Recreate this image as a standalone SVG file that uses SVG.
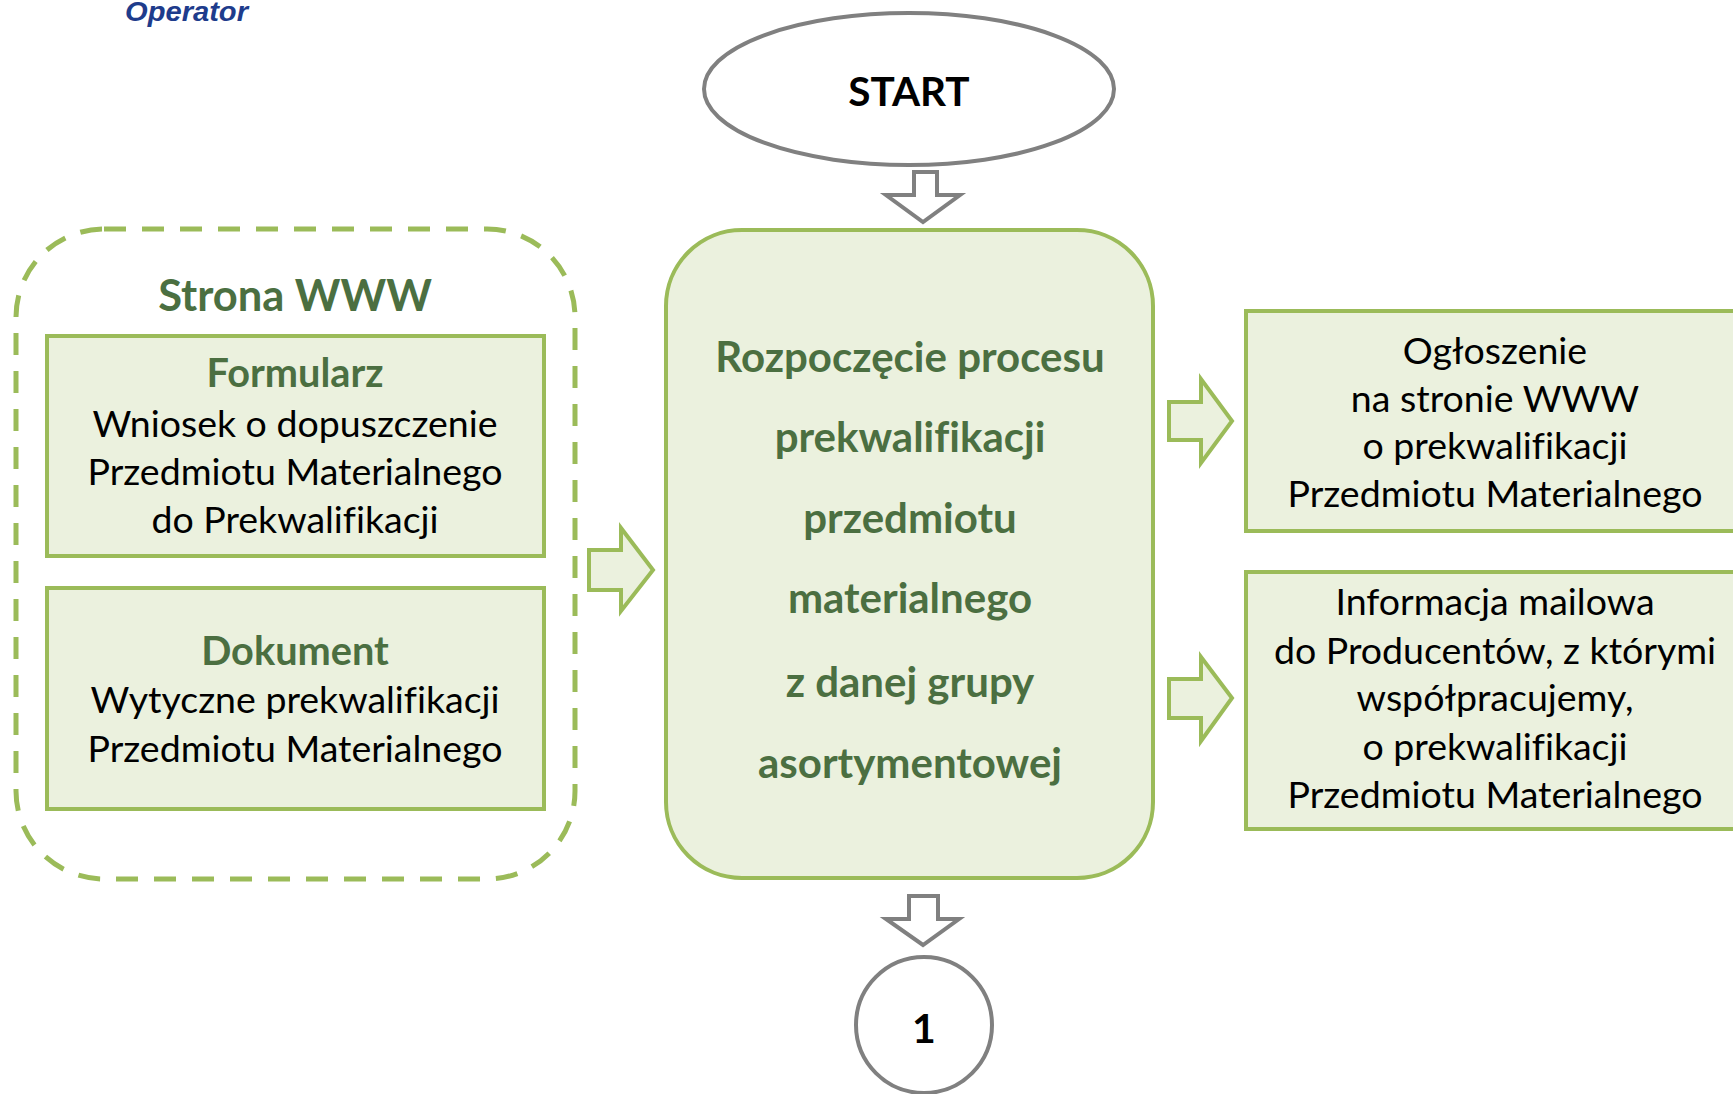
<svg xmlns="http://www.w3.org/2000/svg" width="1733" height="1094" viewBox="0 0 1733 1094">
<style>
text{font-variant-ligatures:none;font-feature-settings:"liga" 0,"clig" 0}
.box{fill:#EBF1DE;stroke:#9BBB59;stroke-width:4}
.garrow{fill:#EBF1DE;stroke:#9BBB59;stroke-width:4;stroke-linejoin:miter}
.gray{fill:#FFFFFF;stroke:#808080;stroke-width:4}
.body{font-family:Lato,"Liberation Sans",sans-serif;font-size:37.5px;fill:#000;text-anchor:middle}
.hd{font-family:Lato,"Liberation Sans",sans-serif;font-weight:bold;fill:#4B6F41;text-anchor:middle}
.blk{font-family:Lato,"Liberation Sans",sans-serif;font-weight:bold;fill:#000;text-anchor:middle}
</style>
<rect width="1733" height="1094" fill="#FFFFFF"/>
<text x="125" y="21" font-family="'Liberation Sans',Arial,sans-serif" font-weight="bold" font-style="italic" font-size="27" fill="#1E3C8C" textLength="123" lengthAdjust="spacingAndGlyphs">Operator</text>

<g id="start">
<ellipse class="gray" cx="909" cy="89" rx="205" ry="76"/>
<text class="blk" x="909" y="106" font-size="40.5">START</text>
</g>

<g id="strona-www">
<rect x="16" y="229" width="559" height="650" rx="88" ry="88" fill="none" stroke="#9BBB59" stroke-width="5" stroke-dasharray="22 16"/>
<text class="hd" x="295" y="311" font-size="43.5">Strona WWW</text>
</g>

<g id="formularz">
<rect class="box" x="47" y="336" width="497" height="220"/>
<text class="hd" x="295" y="387" font-size="39.7">Formularz</text>
<text class="body" x="295" y="437">Wniosek o dopuszczenie</text>
<text class="body" x="295" y="485">Przedmiotu Materialnego</text>
<text class="body" x="295" y="533">do Prekwalifikacji</text>
</g>

<g id="dokument">
<rect class="box" x="47" y="588" width="497" height="221"/>
<text class="hd" x="295" y="665" font-size="39.7">Dokument</text>
<text class="body" x="295" y="713">Wytyczne prekwalifikacji</text>
<text class="body" x="295" y="762">Przedmiotu Materialnego</text>
</g>

<g id="proces">
<rect class="box" x="666" y="230" width="487" height="648" rx="76" ry="76"/>
<text class="hd" x="910" y="372" font-size="42">Rozpoczęcie procesu</text>
<text class="hd" x="910" y="452" font-size="42">prekwalifikacji</text>
<text class="hd" x="910" y="533" font-size="42">przedmiotu</text>
<text class="hd" x="910" y="613" font-size="42">materialnego</text>
<text class="hd" x="910" y="697" font-size="42">z danej grupy</text>
<text class="hd" x="910" y="778" font-size="42">asortymentowej</text>
</g>

<g id="ogloszenie">
<rect class="box" x="1246" y="311" width="520" height="220"/>
<text class="body" x="1495" y="364">Ogłoszenie</text>
<text class="body" x="1495" y="412">na stronie WWW</text>
<text class="body" x="1495" y="459">o prekwalifikacji</text>
<text class="body" x="1495" y="507">Przedmiotu Materialnego</text>
</g>

<g id="informacja">
<rect class="box" x="1246" y="572" width="520" height="257"/>
<text class="body" x="1495" y="615">Informacja mailowa</text>
<text class="body" x="1495" y="664">do Producentów, z którymi</text>
<text class="body" x="1495" y="711">współpracujemy,</text>
<text class="body" x="1495" y="760">o prekwalifikacji</text>
<text class="body" x="1495" y="808">Przedmiotu Materialnego</text>
</g>

<g id="connector-1">
<circle class="gray" cx="924" cy="1025" r="68"/>
<text class="blk" x="924" y="1043" font-size="41">1</text>
</g>

<g id="connectors">
<path class="gray" d="M914,172 H937 V195 H960 L923,222 L886,195 H914 Z" stroke-width="3.5"/>
<path class="gray" d="M909,896 H938 V919 H959 L923,945 L886,919 H909 Z" stroke-width="3.5"/>
<path class="garrow" d="M589,550 H621 V528 L653,570 L621,611 V590 H589 Z"/>
<path class="garrow" d="M1169,402 H1201 V379 L1232,421 L1201,463 V440 H1169 Z"/>
<path class="garrow" d="M1169,679 H1201 V657 L1232,698 L1201,741 V718 H1169 Z"/>
</g>
</svg>
